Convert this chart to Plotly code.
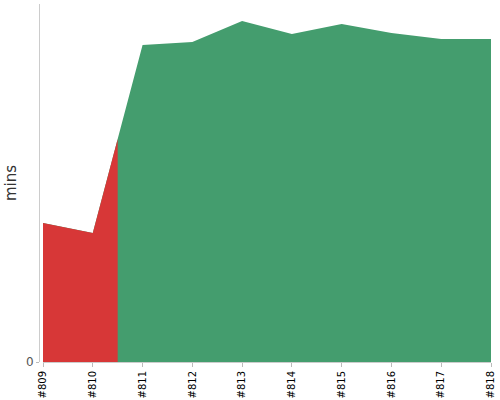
import plotly.graph_objects as go
import numpy as np

# build numbers and their durations (minutes)
builds = ["#809", "#810", "#811", "#812", "#813", "#814", "#815", "#816", "#817", "#818"]
mins = [13.9, 12.9, 31.7, 32.0, 34.1, 32.8, 33.8, 32.9, 32.3, 32.3]

# the colour changes half way between #810 and #811
split_at = 1.5

RED = "#d73737"
GREEN = "#449d6e"

xs = np.arange(len(builds))
split_val = float(np.interp(split_at, xs, mins))

# red part sits on top of the full green area, so no seam shows at the split
red_x = [x for x in xs if x < split_at] + [split_at]
red_y = [mins[i] for i in xs if i < split_at] + [split_val]

fig = go.Figure()
fig.add_trace(go.Scatter(x=xs, y=mins, mode="none", fill="tozeroy",
                         fillcolor=GREEN, hoverinfo="skip"))
fig.add_trace(go.Scatter(x=red_x, y=red_y, mode="none", fill="tozeroy",
                         fillcolor=RED, hoverinfo="skip"))

fig.update_layout(
    width=500, height=400,
    margin=dict(l=30, r=9, t=4, b=38),
    plot_bgcolor="white", paper_bgcolor="white",
    showlegend=False,
    font=dict(family="DejaVu Sans", color="#444"),
    xaxis=dict(
        domain=[13 / 461, 1],
        range=[0, len(builds) - 1],
        automargin=False,
        tickmode="array", tickvals=list(xs), ticktext=builds,
        tickangle=-90,
        tickfont=dict(size=10, color="black"),
        ticks="outside", ticklen=4, tickcolor="#bbb",
        showline=True, linecolor="#ccc", linewidth=1,
        showgrid=False, zeroline=False,
    ),
    yaxis=dict(
        anchor="free", position=9 / 461,
        range=[0, 35.8],
        automargin=False,
        tickmode="array", tickvals=[0], ticktext=["0"],
        tickfont=dict(size=12, color="#555"),
        ticks="outside", ticklen=3, tickcolor="#bbb",
        showline=True, linecolor="#ccc", linewidth=1,
        showgrid=False, zeroline=False,
        title=dict(text="mins", font=dict(size=15, color="#333"), standoff=4),
    ),
)

# drop the browser's default page margin so the 500x400 figure fits the window
fig.write_html("out.html", config={"displayModeBar": False},
               post_script="document.body.style.margin = '0';")
